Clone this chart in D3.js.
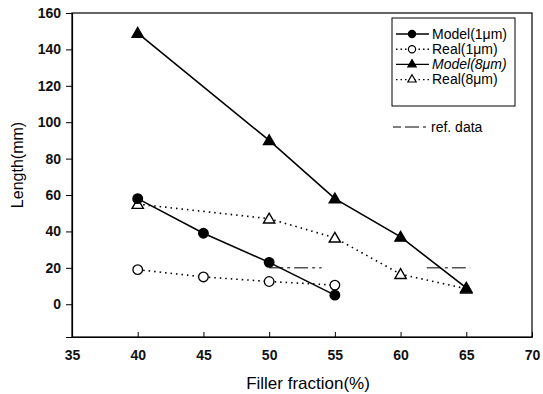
<!DOCTYPE html>
<html>
<head>
<meta charset="utf-8">
<script src="https://cdn.jsdelivr.net/npm/d3@7"></script>
<style>
  body { margin: 0; background: #fff; }
  svg { font-family: "Liberation Sans", Arial, sans-serif; }
</style>
</head>
<body>
<div id="chart"></div>
<script>
const fraction = [40, 45, 50, 55];
const fraction8 = [40, 50, 55, 60, 65];
const model1 = [58, 39, 23, 5];
const real1 = [19, 15, 12.5, 10.5];
const model8 = [149, 90, 58, 37, 9];
const real8 = [55, 47, 36.5, 16.5, 8.5];
const refSegments = [[50, 54, 20], [62, 65.3, 20]];
const xTicks = [35, 40, 45, 50, 55, 60, 65, 70];
const yTicks = [0, 20, 40, 60, 80, 100, 120, 140, 160];

const W = 543, H = 394;
const margin = { top: 13, right: 11, bottom: 57, left: 72 };

const svg = d3.select("#chart").append("svg")
  .attr("width", W).attr("height", H);

const x = d3.scaleLinear().domain([35, 70]).range([margin.left, W - margin.right]);
const y = d3.scaleLinear().domain([-18, 160]).range([H - margin.bottom, margin.top]);

// frame
svg.append("rect")
  .attr("x", x(35)).attr("y", y(160))
  .attr("width", x(70) - x(35)).attr("height", y(-18) - y(160))
  .attr("fill", "none").attr("stroke", "#000").attr("stroke-width", 1.2);

// y axis (ticks outward)
const yAxis = svg.append("g")
  .attr("transform", `translate(${x(35)},0)`)
  .call(d3.axisLeft(y).tickValues(yTicks).tickSize(6).tickPadding(5));
yAxis.select(".domain").attr("stroke-width", 1.2);
yAxis.selectAll("text").style("font-size", "14px").style("font-weight", "bold").attr("fill", "#111");

// x axis (ticks inward)
const xAxis = svg.append("g")
  .attr("transform", `translate(0,${y(-18)})`)
  .call(d3.axisBottom(x).tickValues(xTicks).tickSizeInner(-5).tickSizeOuter(0).tickPadding(13));
xAxis.select(".domain").attr("stroke-width", 1.2);
xAxis.selectAll("text").style("font-size", "14px").style("font-weight", "bold").attr("fill", "#111");

// axis titles
svg.append("text")
  .attr("x", 308).attr("y", 389)
  .attr("text-anchor", "middle").style("font-size", "17px")
  .text("Filler fraction(%)");
svg.append("text")
  .attr("transform", `translate(23,${(y(160) + y(-18)) / 2 - 10}) rotate(-90)`)
  .attr("text-anchor", "middle").style("font-size", "16px")
  .text("Length(mm)");

// reference data segments
svg.selectAll(".ref").data(refSegments).join("line")
  .attr("x1", d => x(d[0])).attr("x2", d => x(d[1]))
  .attr("y1", d => y(d[2])).attr("y2", d => y(d[2]))
  .attr("stroke", "#000").attr("stroke-width", 1)
  .attr("stroke-dasharray", "14,4,3,4");

const line = d3.line().x(d => x(d[0])).y(d => y(d[1]));
const tri = d3.symbol().type(d3.symbolTriangle).size(55);

function series(xs, ys, dashed, marker, filled) {
  const pts = xs.map((v, i) => [v, ys[i]]);
  svg.append("path").datum(pts)
    .attr("d", line).attr("fill", "none").attr("stroke", "#000")
    .attr("stroke-width", 1.6)
    .attr("stroke-dasharray", dashed ? "1.5,4" : null);
  const g = svg.append("g");
  pts.forEach(p => {
    if (marker === "circle") {
      g.append("circle").attr("cx", x(p[0])).attr("cy", y(p[1])).attr("r", 4.8)
        .attr("fill", filled ? "#000" : "#fff").attr("stroke", "#000").attr("stroke-width", 1.3);
    } else {
      g.append("path").attr("d", tri)
        .attr("transform", `translate(${x(p[0])},${y(p[1]) + 1})`)
        .attr("fill", filled ? "#000" : "#fff").attr("stroke", "#000").attr("stroke-width", 1.4);
    }
  });
}

series(fraction8, real8, true, "triangle", false);
series(fraction, real1, true, "circle", false);
series(fraction8, model8, false, "triangle", true);
series(fraction, model1, false, "circle", true);

// legend
const legend = svg.append("g");
legend.append("rect")
  .attr("x", 392).attr("y", 18).attr("width", 123).attr("height", 88)
  .attr("fill", "#fff").attr("stroke", "#000").attr("stroke-width", 1);

const legendItems = [
  { label: "Model(1μm)", dashed: false, marker: "circle", filled: true, italic: false },
  { label: "Real(1μm)", dashed: true, marker: "circle", filled: false, italic: false },
  { label: "Model(8μm)", dashed: false, marker: "triangle", filled: true, italic: true },
  { label: "Real(8μm)", dashed: true, marker: "triangle", filled: false, italic: false }
];
legendItems.forEach((d, i) => {
  const ly = 34 + i * 15.2;
  legend.append("line").attr("x1", 396).attr("x2", 429).attr("y1", ly).attr("y2", ly)
    .attr("stroke", "#000").attr("stroke-width", 1.4)
    .attr("stroke-dasharray", d.dashed ? "1.5,3" : null);
  if (d.marker === "circle") {
    legend.append("circle").attr("cx", 412).attr("cy", ly).attr("r", 3.6)
      .attr("fill", d.filled ? "#000" : "#fff").attr("stroke", "#000").attr("stroke-width", 1.2);
  } else {
    legend.append("path").attr("d", d3.symbol().type(d3.symbolTriangle).size(30))
      .attr("transform", `translate(412,${ly})`)
      .attr("fill", d.filled ? "#000" : "#fff").attr("stroke", "#000").attr("stroke-width", 1.2);
  }
  legend.append("text").attr("x", 432).attr("y", ly + 4.5)
    .style("font-size", "14px").style("font-style", d.italic ? "italic" : "normal")
    .text(d.label);
});

legend.append("line").attr("x1", 393).attr("x2", 428).attr("y1", 127).attr("y2", 127)
  .attr("stroke", "#000").attr("stroke-width", 1).attr("stroke-dasharray", "8,4,14,4,3");
legend.append("text").attr("x", 431).attr("y", 132)
  .style("font-size", "14px").text("ref. data");
</script>
</body>
</html>
